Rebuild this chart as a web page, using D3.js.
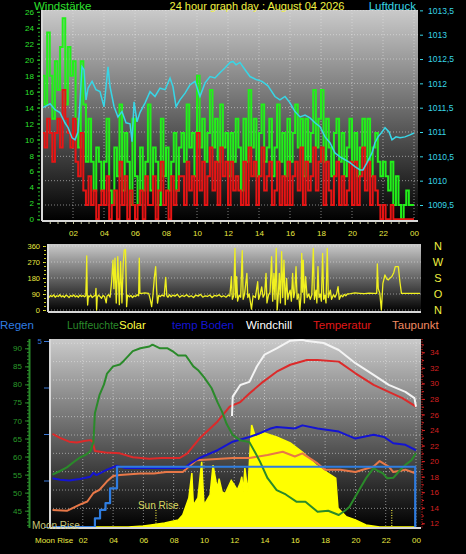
<!DOCTYPE html>
<html>
<head>
<meta charset="utf-8">
<script src="https://d3js.org/d3.v7.min.js"></script>
<style>
  body { margin: 0; background: #000; }
  svg { display: block; font-family: "Liberation Sans", Arial, sans-serif; }
</style>
</head>
<body>
<div id="chart"></div>
<script>
// --- Données : axes / labels ---
const hourTicks = [2, 4, 6, 8, 10, 12, 14, 16, 18, 20, 22, 24];
const windTicks = [0, 2, 4, 6, 8, 10, 12, 14, 16, 18, 20, 22, 24, 26];
const pressureTicks = [1009.5, 1010, 1010.5, 1011, 1011.5, 1012, 1012.5, 1013, 1013.5];
const dirTicks = [0, 90, 180, 270, 360];
const dirLetters = ["N", "O", "S", "W", "N"];
const humTicks = [45, 50, 55, 60, 65, 70, 75, 80, 85, 90];
const tempTicks = [12, 14, 16, 18, 20, 22, 24, 26, 28, 30, 32, 34];
const rainTicks = [0, 1.25, 2.5, 3.75, 5];
const legendNames = ["Regen", "Luftfeuchte", "Solar", "temp Boden", "Windchill", "Temperatur", "Taupunkt"];

// --- Windstärke (10 min) : Böen (vert) et moyenne (rouge) ---
const windGust = [
  18, 14.4, 23.4, 18, 12.6, 19.8,   16.2, 21.6, 25.2, 14.4, 21.6, 18,
  19.8, 12.6, 9, 19.8, 14.4, 7.2,   12.6, 7.2, 3.6, 9, 7.2, 3.6,
  7.2, 12.6, 3.6, 1.8, 9, 5.4,      14.4, 3.6, 10.8, 7.2, 1.8, 12.6,
  5.4, 1.8, 9, 3.6, 7.2, 14.4,      3.6, 9, 7.2, 1.8, 12.6, 5.4,
  9, 3.6, 7.2, 10.8, 3.6, 9,        10.8, 7.2, 14.4, 9, 10.8, 5.4,
  18, 9, 12.6, 7.2, 10.8, 16.2,     9, 12.6, 7.2, 14.4, 9, 10.8,
  5.4, 10.8, 7.2, 12.6, 9, 3.6,     12.6, 7.2, 16.2, 9, 12.6, 5.4,
  10.8, 14.4, 7.2, 9, 12.6, 5.4,    9, 14.4, 7.2, 10.8, 5.4, 12.6,
  7.2, 10.8, 14.4, 9, 12.6, 5.4,    12.6, 7.2, 10.8, 16.2, 9, 12.6,
  16.2, 7.2, 12.6, 9, 5.4, 10.8,    12.6, 7.2, 10.8, 5.4, 9, 12.6,
  7.2, 10.8, 5.4, 9, 12.6, 7.2,     12.6, 5.4, 9, 10.8, 7.2, 5.4,
  7.2, 5.4, 3.6, 7.2, 1.8, 5.4,     1.8, 0, 1.8, 3.6, 1.8, 1.8
];
const windAvg = [
  10.8, 9, 12.6, 10.8, 7.2, 10.8,   12.6, 9, 16.2, 12.6, 10.8, 9,
  12.6, 7.2, 5.4, 10.8, 3.6, 1.8,   5.4, 1.8, 3.6, 0, 1.8, 3.6,
  1.8, 5.4, 0, 1.8, 3.6, 0,         7.2, 1.8, 5.4, 0, 3.6, 1.8,
  0, 1.8, 3.6, 0, 5.4, 1.8,         1.8, 5.4, 0, 3.6, 7.2, 1.8,
  3.6, 0, 5.4, 1.8, 3.6, 5.4,       5.4, 1.8, 7.2, 3.6, 5.4, 1.8,
  10.8, 3.6, 7.2, 1.8, 5.4, 9,      3.6, 7.2, 1.8, 9, 5.4, 7.2,
  1.8, 7.2, 3.6, 5.4, 3.6, 1.8,     7.2, 1.8, 9, 5.4, 7.2, 1.8,
  5.4, 9, 3.6, 5.4, 7.2, 1.8,       3.6, 7.2, 1.8, 5.4, 1.8, 7.2,
  1.8, 5.4, 7.2, 3.6, 9, 1.8,       7.2, 3.6, 5.4, 9, 3.6, 7.2,
  9, 1.8, 7.2, 3.6, 1.8, 5.4,       7.2, 1.8, 5.4, 1.8, 3.6, 7.2,
  1.8, 7.2, 1.8, 5.4, 9, 3.6,       7.2, 1.8, 5.4, 3.6, 1.8, 0,
  1.8, 0, 0, 1.8, 0, 0,             0, 0, 0, 0, 0, 0
];

// --- Luftdruck [heure, hPa] ---
const pressure = [
  [0.06, 1011.5], [0.52, 1011.58], [0.84, 1011.46], [1.16, 1011.4], [1.48, 1011.19], [1.68, 1011.09],
  [1.94, 1010.88], [2.13, 1010.84], [2.32, 1011.0], [2.45, 1011.6], [2.58, 1012.34], [2.71, 1012.28],
  [2.84, 1011.66], [2.97, 1011.9], [3.23, 1012.04], [3.48, 1011.87], [3.74, 1011.83], [4.0, 1011.52],
  [4.26, 1012.34], [4.39, 1011.93], [4.65, 1011.52], [4.9, 1011.31], [5.16, 1011.42], [5.42, 1011.19],
  [5.68, 1011.17], [5.81, 1010.8], [5.94, 1011.62], [6.13, 1011.21], [6.32, 1011.4], [6.65, 1011.6],
  [6.97, 1011.83], [7.29, 1011.73], [7.61, 1011.9], [7.94, 1011.87], [8.26, 1012.11], [8.45, 1011.93],
  [8.65, 1011.52], [8.9, 1011.66], [9.23, 1011.8], [9.55, 1011.97], [9.87, 1012.04], [10.19, 1011.73],
  [10.52, 1012.01], [10.84, 1012.14], [11.16, 1012.11], [11.48, 1012.22], [11.81, 1012.32], [12.13, 1012.43],
  [12.32, 1012.45], [12.52, 1012.38], [12.77, 1012.43], [13.1, 1012.28], [13.42, 1012.14], [13.81, 1012.08],
  [14.19, 1012.04], [14.58, 1011.95], [15.03, 1011.73], [15.35, 1011.66], [15.68, 1011.73], [16.0, 1011.6],
  [16.32, 1011.42], [16.65, 1011.31], [16.97, 1011.35], [17.29, 1011.29], [17.61, 1011.19], [17.94, 1011.11],
  [18.26, 1010.9], [18.58, 1010.78], [18.9, 1010.57], [19.23, 1010.49], [19.55, 1010.43], [19.87, 1010.37],
  [20.19, 1010.29], [20.52, 1010.22], [20.71, 1010.22], [20.97, 1010.37], [21.29, 1010.57], [21.48, 1010.78],
  [21.68, 1010.9], [21.94, 1011.0], [22.13, 1011.09], [22.39, 1011.0], [22.58, 1010.84], [22.84, 1010.9],
  [23.1, 1010.88], [23.42, 1010.9], [23.74, 1010.94], [24.0, 1010.98]
];

// --- Windrichtung [heure, degrés] ---
const windDir = [
  [0, 70], [0.1, 82], [0.2, 75], [0.3, 85], [0.4, 72], [0.5, 80], [0.6, 76], [0.7, 86], [0.8, 74], [0.9, 80],
  [1.0, 72], [1.1, 84], [1.2, 78], [1.3, 70], [1.4, 82], [1.5, 76], [1.6, 85], [1.7, 74], [1.8, 80], [1.9, 72],
  [2.0, 84], [2.1, 76], [2.2, 82], [2.3, 74], [2.38, 80], [2.42, 200], [2.44, 304], [2.47, 90], [2.5, 28], [2.55, 80],
  [2.6, 74], [2.7, 84], [2.8, 70], [2.9, 78], [3.0, 82], [3.04, 122], [3.08, 0], [3.12, 70], [3.2, 84], [3.3, 76],
  [3.4, 66], [3.5, 82], [3.6, 74], [3.7, 40], [3.75, 78], [3.85, 86], [3.95, 72], [4.05, 159], [4.14, 281], [4.2, 120],
  [4.27, 292], [4.35, 39], [4.45, 300], [4.55, 30], [4.63, 272], [4.72, 40], [4.8, 260], [4.87, 337], [4.95, 341], [5.02, 19],
  [5.08, 84], [5.2, 74], [5.3, 82], [5.4, 70], [5.5, 80], [5.6, 76], [5.7, 86], [5.8, 80], [5.84, 291], [5.88, 94],
  [6.0, 94], [6.2, 96], [6.45, 94], [6.55, 60], [6.64, 19], [6.72, 80], [6.82, 187], [6.9, 244], [6.96, 120], [7.02, 39],
  [7.1, 82], [7.2, 76], [7.3, 84], [7.45, 78], [7.55, 184], [7.62, 80], [7.7, 72], [7.8, 86], [7.9, 74], [8.0, 84],
  [8.15, 78], [8.3, 88], [8.45, 72], [8.6, 82], [8.75, 76], [8.9, 86], [9.05, 74], [9.2, 80], [9.35, 70], [9.5, 84],
  [9.65, 78], [9.8, 88], [9.95, 72], [10.1, 80], [10.25, 76], [10.4, 84], [10.55, 70], [10.7, 82], [10.85, 78], [11.0, 86],
  [11.15, 74], [11.3, 80], [11.45, 72], [11.6, 84], [11.7, 78], [11.8, 187], [11.86, 60], [11.95, 80], [12.03, 347], [12.08, 70],
  [12.14, 187], [12.2, 50], [12.3, 84], [12.4, 72], [12.5, 334], [12.56, 60], [12.65, 88], [12.8, 206], [12.86, 70], [12.95, 90],
  [13.1, 5], [13.2, 80], [13.35, 70], [13.5, 159], [13.56, 60], [13.65, 84], [13.76, 130], [13.85, 72], [13.95, 90], [14.04, 206],
  [14.1, 40], [14.2, 84], [14.3, 100], [14.4, 300], [14.47, 50], [14.55, 206], [14.62, 60], [14.7, 347], [14.76, 0], [14.83, 80],
  [14.9, 206], [14.97, 40], [15.05, 328], [15.12, 70], [15.2, 281], [15.28, 30], [15.37, 178], [15.45, 60], [15.52, 90], [15.6, 112],
  [15.68, 50], [15.76, 206], [15.83, 70], [15.9, 100], [15.98, 244], [16.05, 60], [16.15, 90], [16.23, 0], [16.3, 80], [16.35, 319],
  [16.4, 100], [16.45, 281], [16.52, 40], [16.6, 187], [16.7, 70], [16.8, 90], [16.9, 60], [17.0, 84], [17.1, 347], [17.17, 60],
  [17.27, 112], [17.33, 40], [17.4, 244], [17.47, 70], [17.55, 90], [17.62, 50], [17.7, 319], [17.77, 60], [17.85, 84], [17.92, 40],
  [18.0, 347], [18.07, 70], [18.2, 112], [18.28, 60], [18.4, 86], [18.5, 72], [18.6, 90], [18.7, 131], [18.78, 60], [18.9, 84],
  [19.0, 74], [19.1, 88], [19.2, 80], [19.3, 90], [19.5, 92], [19.8, 96], [20.1, 94], [20.4, 92], [20.7, 95], [21.0, 93],
  [21.2, 94], [21.24, 259], [21.3, 120], [21.4, 94], [21.5, 0], [21.6, 150], [21.73, 197], [21.85, 175], [21.95, 169], [22.05, 180],
  [22.17, 187], [22.3, 210], [22.4, 244], [22.6, 244], [22.7, 159], [22.8, 94], [23.5, 94], [24, 94]
];

// --- Graphique du bas [heure, valeur] ---
const humidity = [
  [0, 55], [0.5, 56], [0.95, 57], [1.4, 58.5], [1.8, 59.7], [2.2, 60.5], [2.5, 61.5], [2.7, 64], [2.8, 72], [3.1, 77],
  [3.4, 80], [3.6, 83], [4.0, 85], [4.45, 85.5], [4.7, 86.5], [4.9, 87.4], [5.3, 89.2], [5.8, 90], [6.4, 90.5], [6.6, 91],
  [7.1, 90], [7.6, 90], [8.0, 89], [8.3, 88], [8.8, 88], [9.3, 85], [9.6, 84], [10.0, 82], [10.5, 79], [10.9, 75],
  [11.2, 72.4], [11.5, 69], [11.9, 66], [12.4, 64.5], [13.0, 64], [13.4, 61], [13.7, 58.6], [14.2, 54], [14.8, 50.7], [15.4, 49.5],
  [16.1, 47.5], [16.7, 47.5], [17.5, 44.7], [18.2, 45], [18.9, 43.8], [19.3, 45], [19.6, 46], [20.2, 50.4], [20.7, 54], [21.2, 56.8],
  [21.5, 56], [21.8, 55.4], [22.1, 54], [22.5, 54.1], [22.9, 56], [23.3, 57.7], [23.7, 59], [24, 60.9]
];
const temperature = [
  [0, 23.5], [0.5, 23], [1.1, 22.5], [1.6, 22.4], [2.1, 22.6], [2.5, 22.7], [2.65, 22.5], [2.8, 21.3], [3.5, 21.1], [4.45, 21],
  [5.3, 20.5], [6.4, 20.3], [7.2, 20.4], [8.4, 20.4], [8.9, 21], [9.7, 22.9], [10.9, 25.1], [11.7, 27], [12.4, 27.6], [13.0, 28.7],
  [13.9, 30.2], [14.8, 31.5], [15.7, 32.4], [16.8, 33], [17.5, 33], [18.9, 32.8], [20.0, 31.3], [21.2, 29.8], [22.2, 28.9], [23.1, 28.1],
  [24, 27]
];
const windchill = [
  [11.85, 25.8], [11.9, 28.3], [12.4, 29.8], [13.0, 30.2], [13.5, 32.2], [14.0, 33.7], [14.8, 34.5], [15.7, 35.5], [16.5, 35.6], [16.7, 35.5],
  [17.9, 35.2], [18.9, 34.3], [20.0, 32.6], [21.2, 31.1], [22.2, 29.8], [23.3, 28.9], [23.9, 28.1], [24, 27]
];
const soilTemp = [
  [0, 17.8], [0.5, 17.6], [1.1, 17.5], [1.8, 17.7], [2.5, 18], [2.7, 18.5], [2.9, 18.2], [3.6, 18.9], [4.25, 19.4], [4.8, 19.1],
  [7.0, 19.1], [8.7, 19.1], [9.1, 19.7], [9.7, 20.4], [10.9, 21.4], [11.9, 22.5], [13.0, 23.1], [13.7, 23.6], [14.4, 24.2], [14.8, 24.4],
  [16.0, 24.2], [16.5, 24.6], [17.5, 24.2], [18.9, 23.8], [20.0, 22.9], [21.2, 23.4], [21.9, 23.1], [22.5, 22.3], [23.3, 22.1], [24, 21.4]
];
const dewPoint = [
  [0, 13.7], [0.95, 13.6], [1.8, 14.4], [2.3, 14.8], [2.7, 15.9], [3.1, 16.3], [3.6, 17.4], [4.0, 18.1], [4.45, 18.2], [5.8, 18.4],
  [6.7, 18.4], [7.5, 18.6], [8.6, 18.6], [9.5, 20.1], [11.9, 20.4], [13.0, 20.4], [14.2, 20.8], [15.2, 21.2], [16.0, 20.6], [16.5, 21],
  [17.5, 19.7], [18.0, 18.9], [19.0, 18.9], [20.0, 18.6], [21.2, 19.3], [21.6, 20], [22.2, 19.3], [22.5, 18.6], [23.3, 18.9], [24, 18.4]
];
const rain = [
  [0, 0], [2.8, 0.23], [3.14, 0.46], [3.5, 0.64], [3.8, 1.04], [4.26, 1.62], [23.95, 0], [24, 0]
];
const solar = [
  [0, 0], [5.0, 0], [6.0, 5], [6.5, 11], [7.4, 22], [8.3, 38], [8.6, 65], [9.0, 156], [9.2, 290], [9.3, 118],
  [9.6, 156], [9.85, 350], [10.0, 118], [10.4, 172], [10.6, 333], [10.8, 242], [10.9, 210], [11.0, 260], [11.2, 188], [11.4, 180],
  [11.6, 215], [11.8, 250], [12.0, 226], [12.2, 200], [12.4, 237], [12.5, 270], [12.6, 190], [12.7, 317], [12.9, 188], [13.05, 425],
  [13.15, 548], [13.4, 484], [14.0, 505], [14.8, 484], [15.7, 452], [16.5, 403], [17.4, 333], [18.05, 297], [18.7, 262], [18.85, 102],
  [19.4, 55], [20.0, 38], [20.7, 11], [21.6, 0], [24, 0]
];
const sunRise = 6.83;
const sunSet = 22.4;

// --- Couleurs ---
const colors = {
  gust: "#22f01a", avg: "#e81414", pressure: "#38d6e6", dir: "#f0f020",
  rain: "#2f7de0", hum: "#2a8a2a", solar: "#ffff00", soil: "#1414d2",
  chill: "#f4f4f4", temp: "#dc2a2a", dew: "#e87848"
};
const legendColors = [colors.rain, colors.hum, "#ffff40", "#1414d2", "#ffffff", "#e01818", "#f08a60"];
const legendX = [0, 67, 119, 172, 246, 313, 392];

const svg = d3.select("#chart").append("svg").attr("width", 466).attr("height", 554);
svg.append("rect").attr("width", 466).attr("height", 554).attr("fill", "#000");
const defs = svg.append("defs");

// Dégradé gris -> noir des zones de tracé
function makeGradient(id, top, bottom) {
  const g = defs.append("linearGradient").attr("id", id)
    .attr("x1", 0).attr("y1", 0).attr("x2", 0).attr("y2", 1);
  g.append("stop").attr("offset", "0%").attr("stop-color", top);
  g.append("stop").attr("offset", "100%").attr("stop-color", bottom);
}
makeGradient("bg", "#cacaca", "#000000");

function panel(id, x0, y0, x1, y1) {
  defs.append("clipPath").attr("id", id).append("rect")
    .attr("x", x0).attr("y", y0).attr("width", x1 - x0).attr("height", y1 - y0);
  svg.append("rect").attr("x", x0).attr("y", y0).attr("width", x1 - x0).attr("height", y1 - y0)
    .attr("fill", "url(#bg)");
  return svg.append("g").attr("clip-path", `url(#${id})`);
}
function frame(x0, y0, x1, y1) {
  svg.append("line").attr("x1", x0).attr("x2", x0).attr("y1", y0).attr("y2", y1)
    .attr("stroke", "#d8d8d8").attr("stroke-width", 2);
  svg.append("line").attr("x1", x0).attr("x2", x1).attr("y1", y1).attr("y2", y1)
    .attr("stroke", "#d8d8d8").attr("stroke-width", 2);
}
function gridV(g, x, ticks, y0, y1) {
  g.selectAll(null).data(ticks).enter().append("line")
    .attr("x1", d => x(d)).attr("x2", d => x(d)).attr("y1", y0).attr("y2", y1)
    .attr("stroke", "#e8e8e8").attr("stroke-opacity", 0.55).attr("stroke-dasharray", "1,2");
}
function gridH(g, ys, x0, x1) {
  g.selectAll(null).data(ys).enter().append("line")
    .attr("x1", x0).attr("x2", x1).attr("y1", d => d).attr("y2", d => d)
    .attr("stroke", "#e8e8e8").attr("stroke-opacity", 0.55).attr("stroke-dasharray", "1,2");
}
const hourFmt = h => d3.format("02")(h % 24);
const commaFmt = d => String(d).replace(".", ",");

// ================= 1. WIND / LUFTDRUCK =================
const xTop = d3.scaleLinear().domain([0, 24]).range([42, 414]);
const yWind = d3.scaleLinear().domain([0, 26]).range([219.3, 11.8]);
const yPress = d3.scaleLinear().domain([1009.5, 1013]).range([205, 34.7]);

const gTop = panel("clipTop", 42, 10, 418, 221);
gridV(gTop, xTop, hourTicks, 10, 221);
gridH(gTop, pressureTicks.map(yPress), 42, 418);

const windLine = d3.line().curve(d3.curveStepAfter).x(d => xTop(d[0])).y(d => yWind(d[1]));
const gustPts = windGust.map((v, i) => [i / 6, v]).concat([[24, windGust[windGust.length - 1]]]);
const avgPts = windAvg.map((v, i) => [i / 6, v]).concat([[24, windAvg[windAvg.length - 1]]]);
gTop.append("path").datum(gustPts).attr("d", windLine)
  .attr("fill", "none").attr("stroke", colors.gust).attr("stroke-width", 2);
gTop.append("path").datum(avgPts).attr("d", windLine)
  .attr("fill", "none").attr("stroke", colors.avg).attr("stroke-width", 2);
gTop.append("path").datum(pressure)
  .attr("d", d3.line().x(d => xTop(d[0])).y(d => yPress(d[1])))
  .attr("fill", "none").attr("stroke", colors.pressure).attr("stroke-width", 1.5);
frame(42, 10, 418, 221);

// Axes du haut
const axWind = svg.append("g").attr("transform", "translate(40,0)")
  .call(d3.axisLeft(yWind).tickValues(windTicks).tickSize(3).tickPadding(3));
svg.append("g").attr("transform", "translate(40,0)")
  .call(d3.axisLeft(yWind).tickValues(d3.range(0, 26.5, 0.5)).tickSize(2).tickFormat(""))
  .call(g => g.selectAll("line").attr("stroke", "#2ab42a"));
axWind.selectAll("text").attr("fill", "#2ee02e").style("font-size", "8px");
axWind.selectAll("line").attr("stroke", "#2ee02e");

const axPress = svg.append("g").attr("transform", "translate(420,0)")
  .call(d3.axisRight(yPress).tickValues(pressureTicks).tickSize(3).tickPadding(5).tickFormat(commaFmt));
axPress.selectAll("text").attr("fill", colors.pressure).style("font-size", "8.5px");
axPress.selectAll("line").attr("stroke", colors.pressure);

const axTopX = svg.append("g").attr("transform", "translate(0,223)")
  .call(d3.axisBottom(xTop).tickValues(hourTicks).tickSize(0).tickPadding(7).tickFormat(hourFmt));
svg.append("g").attr("transform", "translate(0,222)")
  .call(d3.axisBottom(xTop).tickValues(d3.range(0.5, 24, 0.5)).tickSize(2).tickFormat(""))
  .call(g => g.selectAll("line").attr("stroke", "#c8c8a0"));
axTopX.selectAll("text").attr("fill", "#e8e840").style("font-size", "8px");

// Titres
svg.append("text").attr("x", 34).attr("y", 10).text("Windstärke")
  .attr("fill", "#2ee02e").style("font-size", "11.5px");
svg.append("text").attr("x", 257).attr("y", 10).attr("text-anchor", "middle")
  .text("24 hour graph day : August 04 2026").attr("fill", "#f0f040").style("font-size", "11px");
svg.append("text").attr("x", 416).attr("y", 10).attr("text-anchor", "end").text("Luftdruck")
  .attr("fill", colors.pressure).style("font-size", "11.5px");

// ================= 2. WINDRICHTUNG =================
const xMid = d3.scaleLinear().domain([0, 24]).range([49, 420]);
const yDir = d3.scaleLinear().domain([0, 360]).range([310, 246]);
const gMid = panel("clipMid", 48, 244, 421, 312);
gridH(gMid, dirTicks.map(yDir), 48, 421);
gMid.append("path").datum(windDir)
  .attr("d", d3.line().x(d => xMid(d[0])).y(d => yDir(d[1])))
  .attr("fill", "none").attr("stroke", colors.dir).attr("stroke-width", 1.3).attr("stroke-linejoin", "round");
frame(48, 244, 421, 312);

const axDir = svg.append("g").attr("transform", "translate(46,0)")
  .call(d3.axisLeft(yDir).tickValues(dirTicks).tickSize(3).tickPadding(3));
svg.append("g").attr("transform", "translate(46,0)")
  .call(d3.axisLeft(yDir).tickValues(d3.range(0, 361, 22.5)).tickSize(2).tickFormat(""))
  .call(g => g.selectAll("line").attr("stroke", "#c8c820"));
axDir.selectAll("text").attr("fill", "#e8e840").style("font-size", "7.5px");
axDir.selectAll("line").attr("stroke", "#e8e840");

svg.append("g").selectAll("text").data(dirTicks).enter().append("text")
  .attr("x", 438).attr("y", d => yDir(d) + 4).attr("text-anchor", "middle")
  .text((d, i) => dirLetters[i]).attr("fill", "#f0f040").style("font-size", "11px");

// ================= 3. LÉGENDE =================
svg.append("g").selectAll("text").data(legendNames).enter().append("text")
  .attr("x", (d, i) => legendX[i]).attr("y", 329)
  .text(d => d).attr("fill", (d, i) => legendColors[i])
  .style("font-size", (d, i) => i === 1 ? "10.5px" : "11.5px");

// ================= 4. GRAPHIQUE DU BAS =================
const xBot = d3.scaleLinear().domain([0, 24]).range([52.5, 416]);
const yHum = d3.scaleLinear().domain([45, 90]).range([510.7, 348.3]);
const yTemp = d3.scaleLinear().domain([12, 34]).range([523.3, 352.3]);
const yRain = d3.scaleLinear().domain([0, 5]).range([527, 341]);
const ySolar = d3.scaleLinear().domain([0, 1000]).range([527, 341]);
const yGrid = d3.scaleLinear().domain([0, 10]).range([526.7, 343.3]);

const gBot = panel("clipBot", 50, 339, 421, 528);
gridV(gBot, xBot, hourTicks, 339, 528);
gridH(gBot, d3.range(1, 11).map(yGrid), 50, 421);

// Solar (zone jaune)
gBot.append("path").datum(solar)
  .attr("d", d3.area().x(d => xBot(d[0])).y0(527).y1(d => ySolar(d[1])))
  .attr("fill", colors.solar).attr("stroke", colors.solar).attr("stroke-width", 1.5);

// Sun rise / sun set
[sunRise, sunSet].forEach(h => {
  gBot.append("line").attr("x1", xBot(h)).attr("x2", xBot(h)).attr("y1", 510).attr("y2", 527)
    .attr("stroke", "#e8e040").attr("stroke-width", 1.2).attr("stroke-dasharray", "1,1.5");
});

const lineOf = (ys, curve) => d3.line().curve(curve || d3.curveLinear).x(d => xBot(d[0])).y(d => ys(d[1]));
const series = [
  { data: dewPoint, y: yTemp, color: colors.dew, w: 2 },
  { data: soilTemp, y: yTemp, color: colors.soil, w: 2 },
  { data: temperature, y: yTemp, color: colors.temp, w: 2 },
  { data: windchill, y: yTemp, color: colors.chill, w: 2 },
  { data: humidity, y: yHum, color: colors.hum, w: 2 },
  { data: rain, y: yRain, color: colors.rain, w: 2.2, curve: d3.curveStepAfter }
];
series.forEach(s => {
  gBot.append("path").datum(s.data).attr("d", lineOf(s.y, s.curve))
    .attr("fill", "none").attr("stroke", s.color).attr("stroke-width", s.w).attr("stroke-linejoin", "round");
});
frame(50, 339, 421, 528);

// Axe Luftfeuchte
svg.append("line").attr("x1", 29.5).attr("x2", 29.5).attr("y1", 339).attr("y2", 528)
  .attr("stroke", "#2a8a2a").attr("stroke-width", 2);
const axHum = svg.append("g").attr("transform", "translate(29,0)")
  .call(d3.axisLeft(yHum).tickValues(humTicks).tickSize(4).tickPadding(3));
svg.append("g").attr("transform", "translate(29,0)")
  .call(d3.axisLeft(yHum).tickValues(d3.range(41, 93, 1)).tickSize(2).tickFormat(""))
  .call(g => g.selectAll("line").attr("stroke", "#2a8a2a"));
axHum.selectAll("text").attr("fill", "#2a9a2a").style("font-size", "8px");
axHum.selectAll("line").attr("stroke", "#2a8a2a");

// Axe Regen
const axRain = svg.append("g").attr("transform", "translate(49,0)")
  .call(d3.axisLeft(yRain).tickValues(rainTicks).tickSize(5).tickPadding(2)
    .tickFormat(d => d === 5 ? "5" : ""));
axRain.selectAll("text").attr("fill", "#3a78d8").style("font-size", "8px");
axRain.selectAll("line").attr("stroke", "#3a78d8");

// Axe Temperatur
svg.append("line").attr("x1", 422).attr("x2", 422).attr("y1", 339).attr("y2", 528)
  .attr("stroke", "#d02020").attr("stroke-width", 1.2).attr("stroke-dasharray", "1,1.5");
const axTemp = svg.append("g").attr("transform", "translate(422,0)")
  .call(d3.axisRight(yTemp).tickValues(tempTicks).tickSize(3).tickPadding(5));
svg.append("g").attr("transform", "translate(422,0)")
  .call(d3.axisRight(yTemp).tickValues(d3.range(12, 35.5, 1)).tickSize(2).tickFormat(""))
  .call(g => g.selectAll("line").attr("stroke", "#d02020"));
axTemp.selectAll("text").attr("fill", "#d42020").style("font-size", "8px");
axTemp.selectAll("line").attr("stroke", "#d02020");

// Axe des heures
const axBotX = svg.append("g").attr("transform", "translate(0,529)")
  .call(d3.axisBottom(xBot).tickValues(hourTicks).tickSize(0).tickPadding(8).tickFormat(hourFmt));
axBotX.selectAll("text").attr("fill", "#e8e840").style("font-size", "8px");
svg.append("text").attr("x", 35).attr("y", 543).text("Moon Rise")
  .attr("fill", "#e8e840").style("font-size", "8px");

// Étiquettes lune / soleil
svg.append("text").attr("x", 32).attr("y", 529).text("Moon Rise")
  .attr("fill", "#c8c878").style("font-size", "10px");
svg.append("text").attr("x", xBot(sunRise) - 18).attr("y", 509).text("Sun Rise")
  .attr("fill", "#d8d860").style("font-size", "10px");

// Domaines des axes masqués
svg.selectAll(".domain").remove();
</script>
</body>
</html>
